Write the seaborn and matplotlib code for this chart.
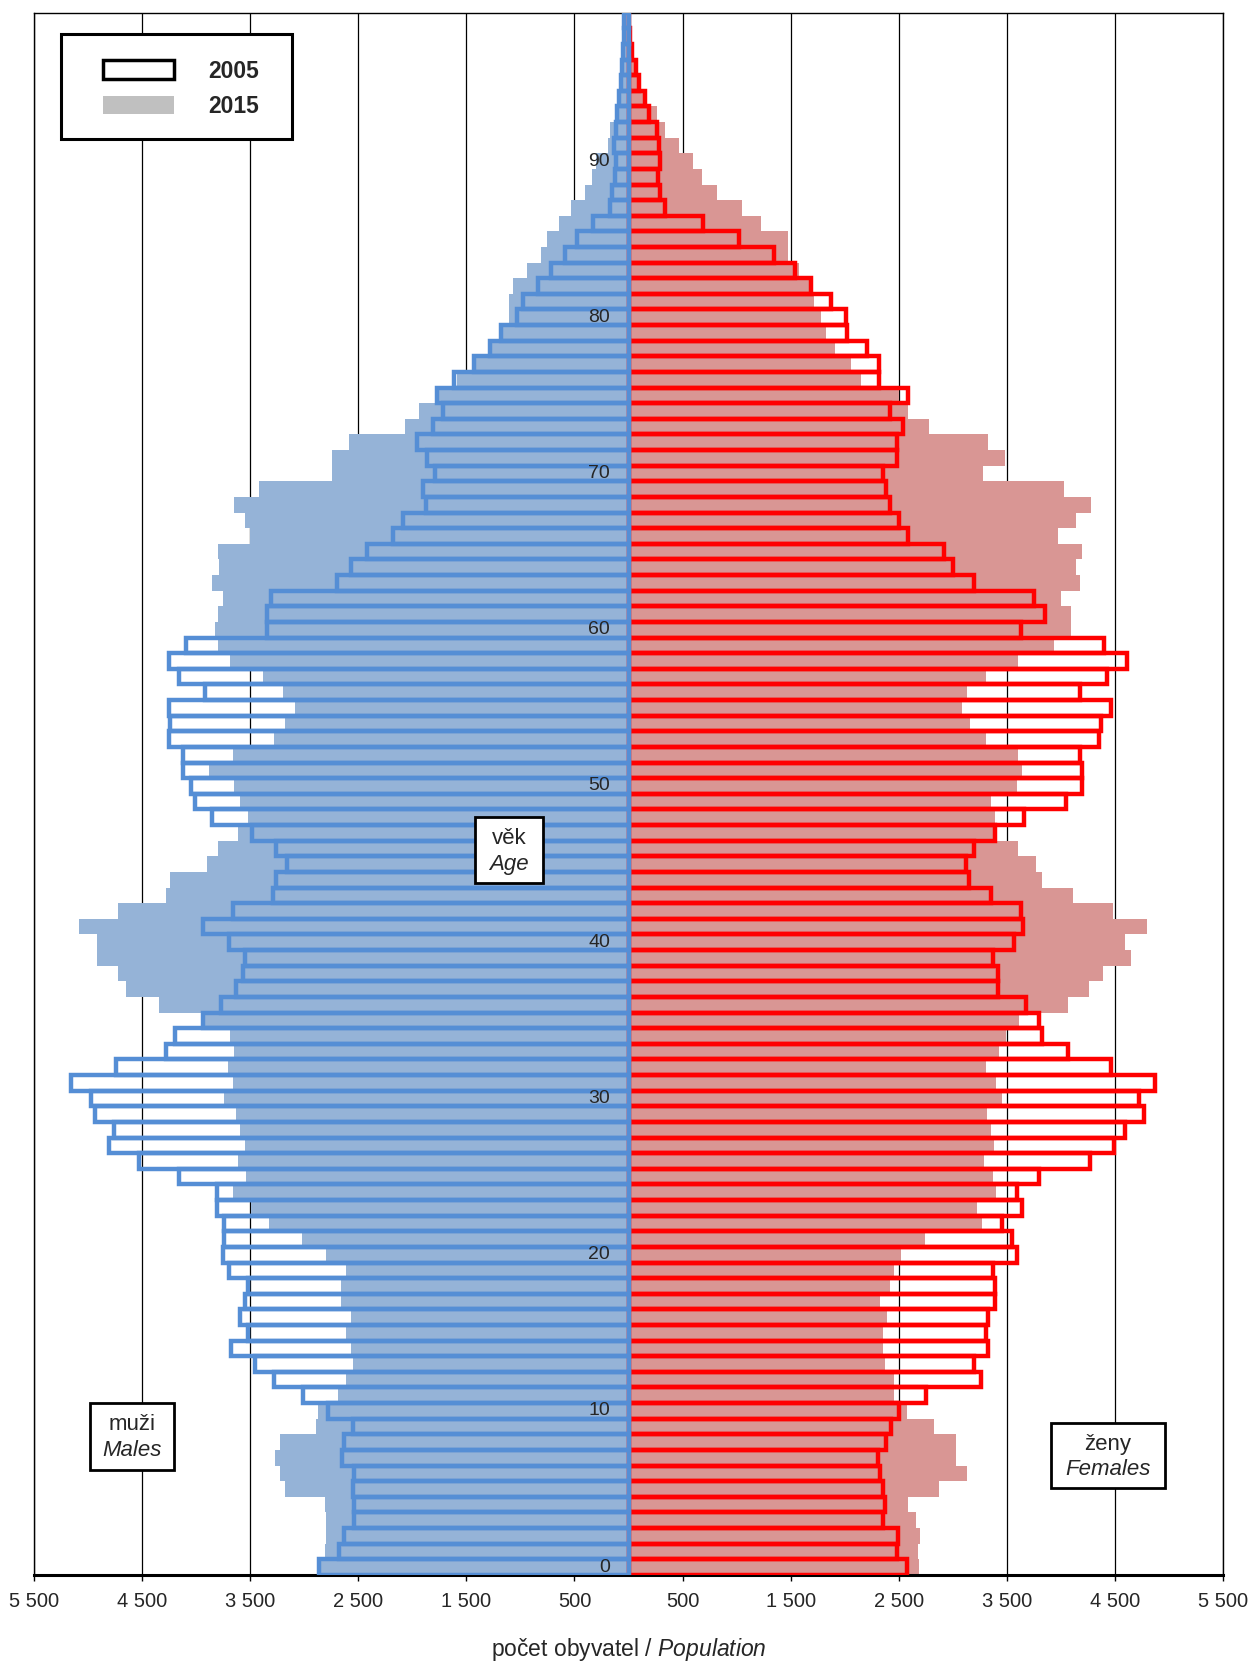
import matplotlib.pyplot as plt
import numpy as np
import pandas as pd
import seaborn as sns
from matplotlib.patches import Patch, Rectangle
from matplotlib.ticker import FuncFormatter

# age groups 0..99
ages = list(range(100))

males_2005 = [
    2860, 2680, 2630, 2540, 2540, 2550, 2540, 2650, 2630, 2550,
    2780, 3010, 3280, 3460, 3680, 3520, 3590, 3550, 3520, 3700,
    3750, 3740, 3740, 3810, 3810, 4160, 4530, 4810, 4760, 4940,
    4970, 5160, 4740, 4280, 4200, 3940, 3770, 3630, 3570, 3550,
    3700, 3940, 3660, 3290, 3260, 3160, 3260, 3480, 3850, 4010,
    4050, 4120, 4120, 4250, 4240, 4250, 3920, 4160, 4250, 4090,
    3340, 3340, 3310, 2700, 2570, 2420, 2180, 2090, 1870, 1900,
    1790, 1860, 1960, 1810, 1720, 1770, 1610, 1430, 1280, 1180,
    1030, 980, 840, 720, 590, 480, 330, 170, 150, 125,
    120, 130, 120, 105, 90, 70, 60, 50, 45, 40,
]
males_2015 = [
    2860, 2810, 2800, 2800, 2810, 3180, 3220, 3270, 3220, 2890,
    2870, 2690, 2610, 2550, 2570, 2610, 2570, 2660, 2660, 2610,
    2800, 3020, 3330, 3490, 3660, 3540, 3610, 3550, 3590, 3630,
    3740, 3660, 3710, 3650, 3690, 3940, 4340, 4650, 4720, 4920,
    4920, 5080, 4720, 4280, 4240, 3900, 3800, 3610, 3520, 3590,
    3650, 3880, 3660, 3280, 3180, 3090, 3200, 3380, 3690, 3800,
    3830, 3800, 3750, 3850, 3790, 3800, 3500, 3550, 3650, 3420,
    2740, 2740, 2590, 2070, 1940, 1780, 1590, 1420, 1260, 1180,
    1110, 1110, 1070, 940, 810, 750, 640, 530, 400, 335,
    300, 190, 170, 115, 95, 70, 60, 45, 35, 25,
]
females_2005 = [
    2580, 2480, 2490, 2350, 2370, 2350, 2330, 2310, 2380, 2430,
    2500, 2750, 3260, 3200, 3330, 3310, 3330, 3390, 3390, 3370,
    3590, 3550, 3460, 3640, 3590, 3800, 4270, 4490, 4590, 4770,
    4720, 4870, 4460, 4070, 3830, 3800, 3680, 3420, 3420, 3370,
    3570, 3650, 3630, 3350, 3150, 3120, 3200, 3390, 3660, 4050,
    4200, 4200, 4180, 4350, 4370, 4460, 4180, 4430, 4610, 4400,
    3630, 3850, 3750, 3200, 3000, 2920, 2590, 2500, 2420, 2380,
    2350, 2480, 2480, 2540, 2420, 2590, 2320, 2320, 2210, 2020,
    2010, 1870, 1690, 1540, 1350, 1020, 690, 340, 290, 270,
    290, 280, 265, 190, 155, 95, 70, 30, 15, 8,
]
females_2015 = [
    2690, 2680, 2700, 2660, 2590, 2870, 3130, 3030, 3030, 2830,
    2580, 2460, 2460, 2370, 2350, 2350, 2390, 2330, 2420, 2460,
    2520, 2740, 3270, 3220, 3400, 3370, 3290, 3380, 3350, 3320,
    3460, 3400, 3310, 3430, 3490, 3610, 4070, 4260, 4390, 4650,
    4590, 4800, 4480, 4110, 3830, 3770, 3600, 3400, 3390, 3350,
    3590, 3640, 3600, 3310, 3160, 3090, 3130, 3310, 3600, 3940,
    4090, 4090, 4000, 4180, 4140, 4200, 3970, 4140, 4280, 4030,
    3280, 3480, 3330, 2780, 2590, 2500, 2150, 2060, 1910, 1830,
    1780, 1720, 1690, 1580, 1480, 1480, 1230, 1050, 820, 680,
    600, 465, 335, 265, 170, 110, 75, 35, 20, 10,
]

x_ticks = [-5500, -4500, -3500, -2500, -1500, -500, 500, 1500, 2500, 3500, 4500, 5500]
age_labels = list(range(0, 100, 10))

sns.set_style('white')
plt.rcParams['font.family'] = ['Liberation Sans', 'DejaVu Sans']
plt.rcParams['mathtext.fontset'] = 'custom'
plt.rcParams['mathtext.rm'] = 'Liberation Sans'
plt.rcParams['mathtext.it'] = 'Liberation Sans:italic'

df = pd.DataFrame({
    'age': ages,
    'm05': -np.array(males_2005),
    'm15': -np.array(males_2015),
    'f05': np.array(females_2005),
    'f15': np.array(females_2015),
})

fig = plt.figure(figsize=(12.51, 16.64), dpi=100)
ax = fig.add_axes([0.0272, 0.0535, 0.9504, 0.9389])

# 2015 as filled bars
for col, colour in [('f15', '#D99694'), ('m15', '#95B3D7')]:
    sns.barplot(data=df, x=col, y='age', orient='y', native_scale=True, width=1.0,
                color=colour, saturation=1, linewidth=0, edgecolor='none',
                errorbar=None, ax=ax, zorder=2)
# 2005 as outlines on top
for col, colour in [('f05', '#FF0000'), ('m05', '#558ED5')]:
    sns.barplot(data=df, x=col, y='age', orient='y', native_scale=True, width=1.0,
                color=colour, saturation=1, fill=False, linewidth=3.2,
                errorbar=None, ax=ax, zorder=3)

ax.set_xlim(-5500, 5500)
ax.set_ylim(-0.5, 99.5)
ax.set_yticks([])
ax.set_ylabel('')
ax.set_xticks(x_ticks)
ax.xaxis.set_major_formatter(FuncFormatter(lambda v, pos: f'{abs(int(v)):,}'.replace(',', ' ')))
ax.tick_params(axis='x', direction='out', length=4, width=1, color='black',
               bottom=True, pad=8, labelsize=14.5)
ax.grid(axis='x', color='black', linewidth=0.9)
ax.grid(axis='y', visible=False)
ax.set_axisbelow(True)
for s in ax.spines.values():
    s.set_visible(True)
    s.set_color('black')
    s.set_linewidth(1)
ax.spines['bottom'].set_linewidth(2.2)

ax.set_xlabel(r'počet obyvatel / $\mathit{Population}$', fontsize=16.5, labelpad=18)

for a in age_labels:
    ax.text(-170, a, str(a), ha='right', va='center', fontsize=14, zorder=6)

# legend: frame drawn separately so the padding can match
ax.add_patch(Rectangle((0.0225, 0.9190), 0.1947, 0.0672, transform=ax.transAxes,
                       facecolor='white', edgecolor='black', linewidth=2.2, zorder=9))
handles = [Patch(facecolor='white', edgecolor='black', linewidth=2.5),
           Patch(facecolor='#C0C0C0', edgecolor='none')]
leg = ax.legend(handles, ['2005', '2015'], loc='upper left',
                bbox_to_anchor=(0.058, 0.9700), borderaxespad=0, borderpad=0,
                frameon=False, prop={'weight': 'bold', 'size': 16.5},
                handlelength=3.1, handleheight=0.85, handletextpad=1.5,
                labelspacing=0.55)
leg.set_zorder(10)

# text boxes (x0, y0, x1, y1 in axes fraction, first line, italic second line)
boxes = [
    (0.0471, 0.0672, 0.1177, 0.1101, 'muži', 'Males', 0.0960, 0.0794),
    (0.8553, 0.0557, 0.9512, 0.0973, 'ženy', 'Females', 0.0832, 0.0672),
    (0.3709, 0.4429, 0.4277, 0.4852, 'věk', 'Age', 0.4713, 0.4549),
]
for x0, y0, x1, y1, top, bottom, ty, by in boxes:
    ax.add_patch(Rectangle((x0, y0), x1 - x0, y1 - y0, transform=ax.transAxes,
                           facecolor='white', edgecolor='black', linewidth=2, zorder=8))
    xc = (x0 + x1) / 2
    ax.text(xc, ty, top, transform=ax.transAxes, ha='center', va='center',
            fontsize=16, zorder=9)
    ax.text(xc, by, bottom, transform=ax.transAxes, ha='center', va='center',
            fontsize=16, style='italic', zorder=9)

fig.savefig('out.png', dpi=100)
